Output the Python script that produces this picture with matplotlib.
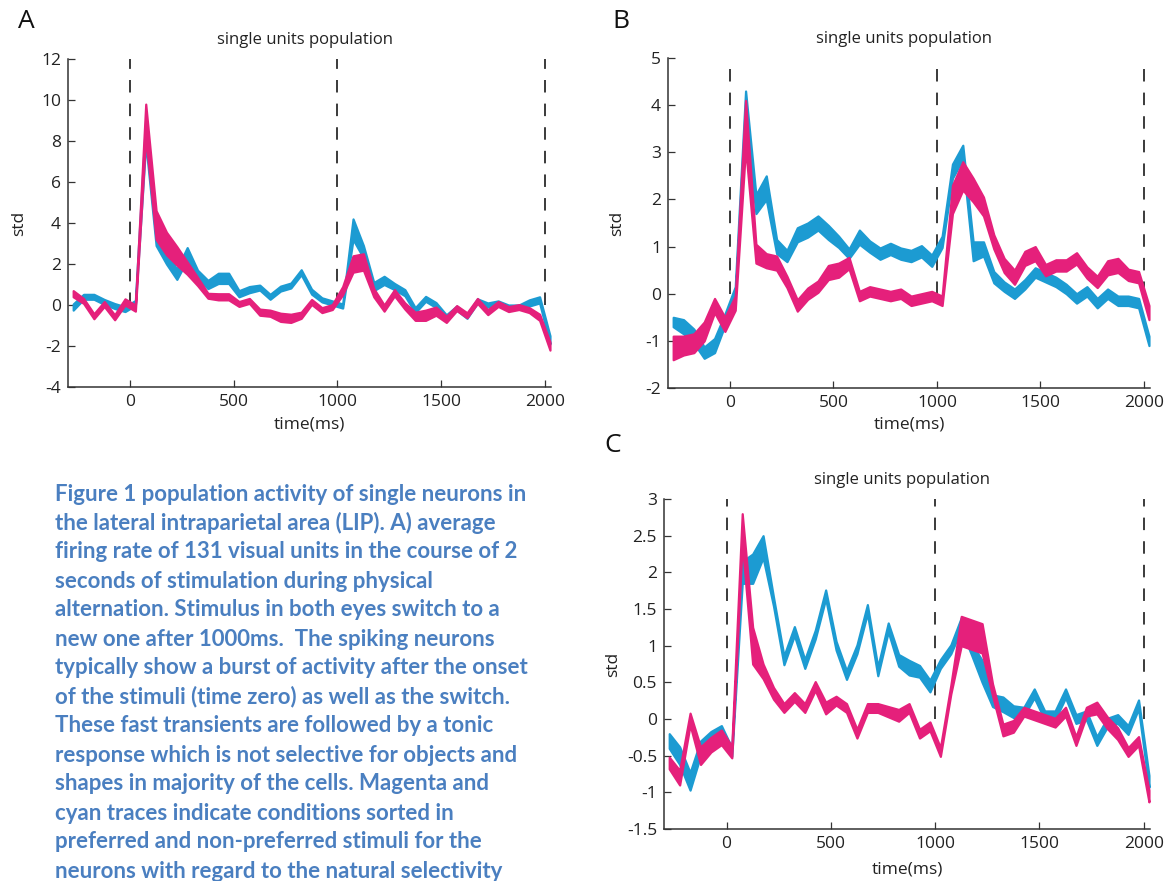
import numpy as np
import matplotlib
matplotlib.use('Agg')
import matplotlib.pyplot as plt

plt.rcParams['font.family'] = ['Open Sans', 'DejaVu Sans']
plt.rcParams['lines.scale_dashes'] = False

# time bins (ms), 50 ms bins centred on -275 ... 2025
TIME = np.arange(-275, 2026, 50)

# panel A
a_pref_mean = [0.55, 0.2, -0.55, 0.05, -0.6, 0.15, -0.15, 9.0, 3.9, 3.0,
               2.4, 1.8, 1.15, 0.45, 0.4, 0.4, 0.05, 0.2, -0.35, -0.4,
               -0.6, -0.65, -0.5, 0.15, -0.25, -0.1, 0.7, 2.0, 2.1, 0.6,
               -0.15, 0.6, -0.05, -0.55, -0.5, -0.3, -0.7, -0.15, -0.5, 0.2,
               -0.35, 0.05, -0.2, -0.1, -0.25, -0.6, -2.0]
a_pref_sem = [0.15, 0.12, 0.12, 0.12, 0.12, 0.15, 0.15, 0.8, 0.7, 0.55,
              0.45, 0.3, 0.2, 0.12, 0.15, 0.15, 0.12, 0.12, 0.15, 0.15,
              0.2, 0.2, 0.15, 0.12, 0.12, 0.12, 0.2, 0.4, 0.4, 0.2,
              0.15, 0.15, 0.15, 0.2, 0.25, 0.2, 0.15, 0.12, 0.12, 0.12,
              0.12, 0.12, 0.12, 0.12, 0.12, 0.15, 0.2]
a_non_mean = [-0.1, 0.4, 0.4, 0.15, -0.05, -0.2, 0.1, 8.5, 3.2, 2.3,
              1.5, 2.5, 1.5, 1.0, 1.3, 1.3, 0.55, 0.75, 0.85, 0.4,
              0.8, 0.95, 1.6, 0.65, 0.25, 0.1, -0.05, 3.7, 2.6, 0.9,
              1.2, 0.9, 0.6, -0.25, 0.3, 0.0, -0.6, -0.15, -0.55, 0.2,
              0.0, 0.1, -0.1, -0.1, 0.1, 0.25, -1.7]
a_non_sem = [0.15, 0.12, 0.12, 0.12, 0.12, 0.12, 0.12, 0.6, 0.3, 0.3,
             0.25, 0.3, 0.2, 0.2, 0.25, 0.25, 0.15, 0.15, 0.12, 0.12,
             0.12, 0.12, 0.12, 0.12, 0.1, 0.1, 0.1, 0.5, 0.3, 0.2,
             0.2, 0.15, 0.15, 0.12, 0.12, 0.12, 0.12, 0.1, 0.1, 0.1,
             0.1, 0.1, 0.1, 0.1, 0.15, 0.15, 0.2]

# panel B
b_pref_mean = [-1.15, -1.1, -1.05, -0.8, -0.25, -0.65, -0.2, 3.6, 0.85, 0.7,
               0.65, 0.25, -0.25, 0.0, 0.15, 0.45, 0.5, 0.65, -0.05, 0.05,
               0.0, -0.05, 0.0, -0.15, -0.1, -0.05, -0.15, 2.0, 2.5, 2.2,
               1.85, 1.1, 0.6, 0.35, 0.75, 0.85, 0.5, 0.6, 0.6, 0.75,
               0.45, 0.25, 0.55, 0.6, 0.4, 0.35, -0.4]
b_pref_sem = [0.25, 0.2, 0.2, 0.2, 0.15, 0.15, 0.15, 0.5, 0.2, 0.15,
              0.15, 0.12, 0.12, 0.12, 0.12, 0.15, 0.15, 0.12, 0.1, 0.1,
              0.1, 0.1, 0.1, 0.1, 0.1, 0.1, 0.1, 0.3, 0.3, 0.25,
              0.2, 0.15, 0.15, 0.15, 0.15, 0.15, 0.12, 0.12, 0.12, 0.12,
              0.12, 0.12, 0.15, 0.15, 0.12, 0.12, 0.15]
b_non_mean = [-0.6, -0.7, -0.9, -1.25, -1.1, -0.55, 0.05, 4.0, 1.9, 2.25,
              1.0, 0.8, 1.25, 1.35, 1.5, 1.3, 1.1, 0.85, 1.2, 1.0,
              0.85, 0.95, 0.85, 0.8, 0.9, 0.7, 1.1, 2.6, 3.0, 0.9,
              0.95, 0.35, 0.15, 0.0, 0.2, 0.45, 0.35, 0.25, 0.1, -0.1,
              0.05, -0.2, 0.0, -0.15, -0.15, -0.2, -1.0]
b_non_sem = [0.1, 0.15, 0.15, 0.12, 0.15, 0.12, 0.1, 0.3, 0.2, 0.25,
             0.15, 0.12, 0.15, 0.15, 0.15, 0.15, 0.12, 0.1, 0.15, 0.12,
             0.12, 0.12, 0.12, 0.12, 0.12, 0.12, 0.12, 0.15, 0.15, 0.2,
             0.15, 0.12, 0.1, 0.1, 0.1, 0.1, 0.1, 0.1, 0.1, 0.1,
             0.1, 0.1, 0.1, 0.1, 0.1, 0.1, 0.1]

# panel C
c_pref_mean = [-0.6, -0.8, 0.0, -0.5, -0.35, -0.25, -0.45, 2.6, 1.0, 0.65,
               0.35, 0.15, 0.3, 0.15, 0.45, 0.15, 0.25, 0.15, -0.2, 0.15,
               0.15, 0.1, 0.05, 0.15, -0.2, -0.1, -0.45, 0.4, 1.2, 1.15,
               1.1, 0.4, -0.15, -0.1, 0.1, 0.05, 0.0, -0.05, 0.1, -0.3,
               0.1, 0.15, -0.05, -0.2, -0.45, -0.3, -1.05]
c_pref_sem = [0.08, 0.1, 0.08, 0.12, 0.1, 0.1, 0.08, 0.2, 0.25, 0.1,
              0.08, 0.06, 0.06, 0.06, 0.06, 0.08, 0.06, 0.06, 0.06, 0.06,
              0.06, 0.07, 0.08, 0.06, 0.06, 0.06, 0.06, 0.06, 0.2, 0.2,
              0.2, 0.08, 0.08, 0.08, 0.06, 0.06, 0.06, 0.06, 0.06, 0.06,
              0.06, 0.08, 0.08, 0.08, 0.06, 0.06, 0.08]
c_non_mean = [-0.3, -0.5, -0.85, -0.4, -0.25, -0.15, -0.45, 2.0, 2.05, 2.35,
              1.6, 0.8, 1.2, 0.75, 1.15, 1.7, 1.0, 0.6, 0.95, 1.5,
              0.65, 1.25, 0.8, 0.7, 0.65, 0.45, 0.75, 0.95, 1.3, 0.95,
              0.65, 0.25, 0.2, 0.1, 0.1, 0.35, 0.05, 0.05, 0.35, 0.0,
              0.05, -0.3, -0.05, 0.0, -0.15, 0.2, -0.85]
c_non_sem = [0.1, 0.12, 0.12, 0.1, 0.08, 0.06, 0.06, 0.15, 0.2, 0.15,
             0.06, 0.06, 0.06, 0.06, 0.06, 0.06, 0.06, 0.06, 0.06, 0.06,
             0.06, 0.06, 0.08, 0.1, 0.08, 0.08, 0.06, 0.06, 0.08, 0.08,
             0.15, 0.08, 0.1, 0.08, 0.06, 0.06, 0.06, 0.06, 0.06, 0.06,
             0.06, 0.06, 0.06, 0.06, 0.06, 0.06, 0.08]

X_TICKS = [0, 500, 1000, 1500, 2000]
EVENTS = [0, 1000, 2000]

CAPTION = [
    "Figure 1 population activity of single neurons in",
    "the lateral intraparietal area (LIP). A) average",
    "firing rate of 131 visual units in the course of 2",
    "seconds of stimulation during physical",
    "alternation. Stimulus in both eyes switch to a",
    "new one after 1000ms.  The spiking neurons",
    "typically show a burst of activity after the onset",
    "of the stimuli (time zero) as well as the switch.",
    "These fast transients are followed by a tonic",
    "response which is not selective for objects and",
    "shapes in majority of the cells. Magenta and",
    "cyan traces indicate conditions sorted in",
    "preferred and non-preferred stimuli for the",
    "neurons with regard to the natural selectivity",
]

MAGENTA = '#e5207b'
CYAN = '#1c9bd2'
TEXT = '#222222'
W, H = 1165, 881


def band(ax, mean, sem, face):
    mean = np.asarray(mean)
    sem = np.asarray(sem)
    ax.fill_between(TIME, mean - sem, mean + sem, facecolor=face,
                    edgecolor=face, linewidth=1.6, zorder=3)


def draw_panel(ax, pref, non, ylim, yticks, label_x, xlabel_y):
    band(ax, non[0], non[1], CYAN)
    band(ax, pref[0], pref[1], MAGENTA)
    for ev in EVENTS:
        ax.plot([ev, ev], [0, ylim[1]], color='#3a3a3a', lw=1.4,
                ls=(0, (9, 8)), zorder=2)
    ax.set_xlim(-300, 2030)
    ax.set_ylim(*ylim)
    ax.set_xticks(X_TICKS)
    ax.set_yticks(yticks)
    ax.set_yticklabels([f'{v:g}' for v in yticks])
    for side in ['top', 'right']:
        ax.spines[side].set_visible(False)
    for side in ['left', 'bottom']:
        ax.spines[side].set_color('#333333')
        ax.spines[side].set_linewidth(1.1)
    ax.tick_params(direction='in', length=5, width=0.9, colors='#333333',
                   labelsize=12.5, labelcolor=TEXT, pad=5)
    ax.set_ylabel('std', fontsize=12.5, color=TEXT)
    ax.yaxis.set_label_coords(label_x, 0.5)
    ax.set_xlabel('time(ms)', fontsize=12.5, color=TEXT, va='center')
    ax.xaxis.set_label_coords(0.5, xlabel_y)
    ax.text(0.49, 1.057, 'single units population', transform=ax.transAxes,
            ha='center', va='center', fontsize=12, color=TEXT)


def px_axes(fig, left, top, right, bottom):
    return fig.add_axes([left / W, 1 - bottom / H, (right - left) / W,
                         (bottom - top) / H])


def generate_plot():
    fig = plt.figure(figsize=(W / 100, H / 100), dpi=100)

    ax_a = px_axes(fig, 68, 59, 551, 387)
    draw_panel(ax_a, (a_pref_mean, a_pref_sem), (a_non_mean, a_non_sem),
               (-4, 12), [-4, -2, 0, 2, 4, 6, 8, 10, 12], -0.085, -0.113)

    ax_b = px_axes(fig, 668, 58, 1150, 388)
    draw_panel(ax_b, (b_pref_mean, b_pref_sem), (b_non_mean, b_non_sem),
               (-2, 5), [-2, -1, 0, 1, 2, 3, 4, 5], -0.089, -0.112)

    ax_c = px_axes(fig, 664, 499, 1150, 829)
    draw_panel(ax_c, (c_pref_mean, c_pref_sem), (c_non_mean, c_non_sem),
               (-1.5, 3), [-1.5, -1, -0.5, 0, 0.5, 1, 1.5, 2, 2.5, 3],
               -0.089, -0.124)

    for letter, x, y in [('A', 18, 22), ('B', 612, 22), ('C', 604, 445)]:
        fig.text(x / W, 1 - y / H, letter, fontsize=19, color='#111111',
                 ha='left', va='center')

    for i, line in enumerate(CAPTION):
        fig.text(55 / W, 1 - (494 + 29 * i) / H, line, fontsize=16,
                 fontweight='bold', color='#4a7fc0', family=['Lato', 'DejaVu Sans'],
                 ha='left', va='center')
    return fig


if __name__ == "__main__":
    fig = generate_plot()
    fig.savefig('out.png', dpi=100)
